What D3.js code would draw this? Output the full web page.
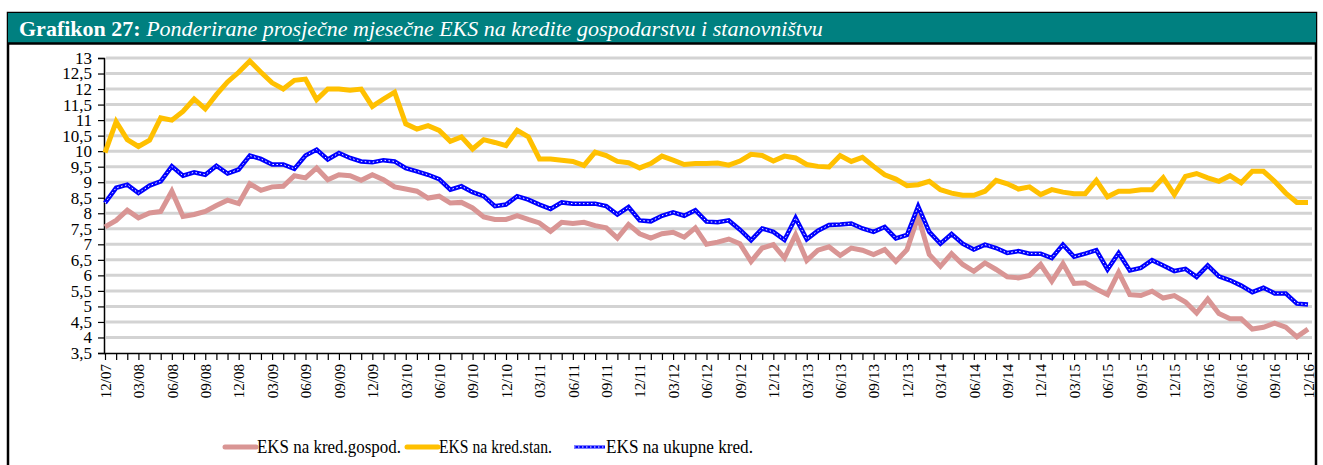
<!DOCTYPE html>
<html lang="hr">
<head>
	<meta charset="UTF-8">
	<title>Grafikon 27</title>
	<script src="https://cdn.jsdelivr.net/npm/d3@7/dist/d3.min.js"></script>
	<style>
		body { margin: 0; background: #fff; }
	</style>
</head>
<body>
<script>
// months 12/07 .. 12/16, labels every third month
let tickLabels = ['12/07','03/08','06/08','09/08','12/08','03/09','06/09','09/09','12/09',
	'03/10','06/10','09/10','12/10','03/11','06/11','09/11','12/11','03/12','06/12','09/12',
	'12/12','03/13','06/13','09/13','12/13','03/14','06/14','09/14','12/14','03/15','06/15',
	'09/15','12/15','03/16','06/16','09/16','12/16']

let gospod = [7.56,7.77,8.10,7.85,8.01,8.06,8.71,7.90,7.96,8.06,8.25,8.42,8.31,8.95,8.74,8.85,8.87,
	9.21,9.14,9.46,9.08,9.24,9.21,9.06,9.24,9.08,8.85,8.78,8.71,8.49,8.55,8.33,8.35,8.17,7.88,
	7.80,7.80,7.92,7.80,7.69,7.42,7.71,7.67,7.71,7.60,7.53,7.20,7.64,7.34,7.20,7.34,7.39,7.23,
	7.53,7.00,7.07,7.17,7.02,6.45,6.88,6.99,6.56,7.31,6.48,6.81,6.92,6.64,6.88,6.81,6.67,6.83,
	6.45,6.83,7.90,6.67,6.29,6.70,6.35,6.13,6.40,6.19,5.95,5.92,6.00,6.35,5.81,6.38,5.74,5.76,
	5.56,5.38,6.10,5.38,5.35,5.49,5.27,5.35,5.14,4.79,5.24,4.77,4.60,4.60,4.27,4.33,4.46,4.33,
	4.02,4.27]

let stan = [9.95,10.95,10.37,10.15,10.35,11.07,11.00,11.28,11.68,11.36,11.82,12.23,12.54,12.90,
	12.54,12.20,12.00,12.28,12.32,11.66,12.00,12.00,11.96,12.00,11.44,11.68,11.90,10.88,10.71,
	10.82,10.67,10.32,10.46,10.07,10.37,10.28,10.18,10.67,10.46,9.75,9.75,9.71,9.67,9.54,9.97,
	9.86,9.67,9.63,9.46,9.60,9.84,9.71,9.57,9.60,9.60,9.62,9.55,9.68,9.90,9.86,9.68,9.84,9.78,
	9.57,9.51,9.49,9.86,9.67,9.80,9.51,9.24,9.10,8.89,8.92,9.03,8.76,8.65,8.58,8.58,8.71,9.06,
	8.95,8.78,8.85,8.60,8.76,8.68,8.63,8.63,9.06,8.53,8.71,8.71,8.76,8.76,9.14,8.60,9.19,9.28,
	9.14,9.03,9.21,8.98,9.35,9.35,9.03,8.65,8.35,8.35]

let ukupne = [8.33,8.82,8.92,8.65,8.89,9.03,9.51,9.21,9.32,9.24,9.53,9.28,9.41,9.86,9.75,9.57,
	9.57,9.43,9.86,10.05,9.73,9.94,9.78,9.67,9.64,9.71,9.67,9.45,9.35,9.24,9.10,8.76,8.87,8.68,
	8.55,8.23,8.28,8.55,8.44,8.28,8.14,8.35,8.31,8.31,8.31,8.23,7.96,8.20,7.77,7.74,7.92,8.03,
	7.92,8.10,7.73,7.71,7.77,7.47,7.13,7.51,7.40,7.14,7.85,7.16,7.44,7.62,7.64,7.67,7.51,7.40,
	7.56,7.19,7.30,8.22,7.40,7.02,7.33,7.02,6.83,6.99,6.88,6.72,6.78,6.70,6.70,6.56,6.99,6.60,
	6.70,6.81,6.19,6.72,6.16,6.24,6.49,6.32,6.14,6.21,5.95,6.32,5.97,5.84,5.67,5.46,5.60,5.42,
	5.42,5.09,5.06]

let yTicks = [3.5,4,4.5,5,5.5,6,6.5,7,7.5,8,8.5,9,9.5,10,10.5,11,11.5,12,12.5,13]

let series = [
	{ name: 'EKS na kred.gospod.', values: gospod, color: '#d99594', lx: 225, tw: 144 },
	{ name: 'EKS na kred.stan.', values: stan, color: '#ffc000', lx: 407, tw: 113 },
	{ name: 'EKS na ukupne kred.', values: ukupne, color: '#0000ff', lx: 574, tw: 147 }
]

const serif = '"Liberation Serif", "Times New Roman", serif'
let W = 1323, H = 465
let svg = d3.select('body').append('svg')
	.attr('width', W)
	.attr('height', H)
	.style('font-family', serif)

// frame + header
svg.append('rect')
	.attr('x', 8).attr('y', 13).attr('width', 1308).attr('height', 460)
	.attr('fill', 'white').attr('stroke', 'black').attr('stroke-width', 2.5)
svg.append('rect')
	.attr('x', 8).attr('y', 13).attr('width', 1308).attr('height', 30)
	.attr('fill', '#008080')
svg.append('line')
	.attr('x1', 8).attr('x2', 1316).attr('y1', 43.5).attr('y2', 43.5)
	.attr('stroke', 'black').attr('stroke-width', 2.5)

let title = svg.append('text')
	.attr('x', 19).attr('y', 36)
	.attr('fill', 'white')
	.style('font-family', serif)
	.style('font-size', '22px')
title.append('tspan').attr('font-weight', 'bold').text('Grafikon 27: ')
title.append('tspan').attr('font-style', 'italic')
	.text('Ponderirane prosječne mjesečne EKS na kredite gospodarstvu i stanovništvu')

let x = d3.scaleLinear().domain([0, gospod.length - 1]).range([105, 1308])
let y = d3.scaleLinear().domain([3.5, 13]).range([353, 58])

// gridlines
svg.append('g').selectAll('line')
	.data(yTicks.slice(1))
	.enter().append('line')
	.attr('x1', 106).attr('x2', 1312)
	.attr('y1', d => y(d)).attr('y2', d => y(d))
	.attr('stroke', '#d3d3d3').attr('stroke-width', 3)

// y axis
let yAxis = d3.axisLeft(y)
	.tickValues(yTicks)
	.tickSize(6)
	.tickFormat(d => String(d).replace('.', ','))
let gy = svg.append('g')
	.attr('transform', 'translate(104,0)')
	.call(yAxis)
gy.select('.domain').attr('stroke', 'black').attr('stroke-width', 1.5)
gy.selectAll('.tick line').attr('stroke', 'black').attr('stroke-width', 1.2)
gy.selectAll('.tick text')
	.attr('x', -12).attr('dy', '0.32em')
	.style('font-family', serif)
	.style('font-size', '17px').attr('fill', 'black')

// x axis, tick every month, label every 3rd
let xAxis = d3.axisBottom(x)
	.tickValues(d3.range(gospod.length))
	.tickSize(7)
	.tickFormat(i => i % 3 === 0 ? tickLabels[i / 3] : '')
let gx = svg.append('g')
	.attr('transform', 'translate(0,353)')
	.call(xAxis)
gx.select('.domain').attr('stroke', 'black').attr('stroke-width', 1.5)
	.attr('d', 'M104,0.5H1312')
gx.selectAll('.tick line').attr('stroke', 'black').attr('stroke-width', 1.2)
gx.selectAll('.tick text')
	.attr('transform', 'rotate(-90)')
	.attr('text-anchor', 'end')
	.attr('x', -11).attr('y', 0).attr('dy', '0.35em')
	.style('font-family', serif)
	.style('font-size', '15px').attr('fill', 'black')

// lines
let line = d3.line()
	.x((d, i) => x(i))
	.y(d => y(d))

series.forEach(s => {
	svg.append('path')
		.attr('d', line(s.values))
		.attr('fill', 'none')
		.attr('stroke', s.color)
		.attr('stroke-width', s.color === '#0000ff' ? 4.5 : 5)
		.attr('stroke-linejoin', 'miter')
})
// white dotted marker look on the total line
svg.append('path')
	.attr('d', line(ukupne))
	.attr('fill', 'none')
	.attr('stroke', 'white')
	.attr('stroke-width', 1)
	.attr('stroke-dasharray', '1.5,2.5')

// legend
let lg = svg.append('g')
series.forEach(s => {
	lg.append('line')
		.attr('x1', s.lx).attr('x2', s.lx + 31)
		.attr('y1', 447).attr('y2', 447)
		.attr('stroke', s.color)
		.attr('stroke-width', s.color === '#0000ff' ? 3 : 5)
		.attr('stroke-linecap', s.color === '#0000ff' ? 'butt' : 'round')
	if (s.color === '#0000ff') {
		lg.append('line')
			.attr('x1', s.lx).attr('x2', s.lx + 31)
			.attr('y1', 447).attr('y2', 447)
			.attr('stroke', 'white').attr('stroke-width', 1)
			.attr('stroke-dasharray', '1.5,2.5')
	}
	lg.append('text')
		.attr('x', s.lx + 32).attr('y', 453)
		.style('font-family', serif)
		.style('font-size', '19px')
		.attr('textLength', s.tw)
		.attr('lengthAdjust', 'spacingAndGlyphs')
		.text(s.name)
})
</script>
</body>
</html>
